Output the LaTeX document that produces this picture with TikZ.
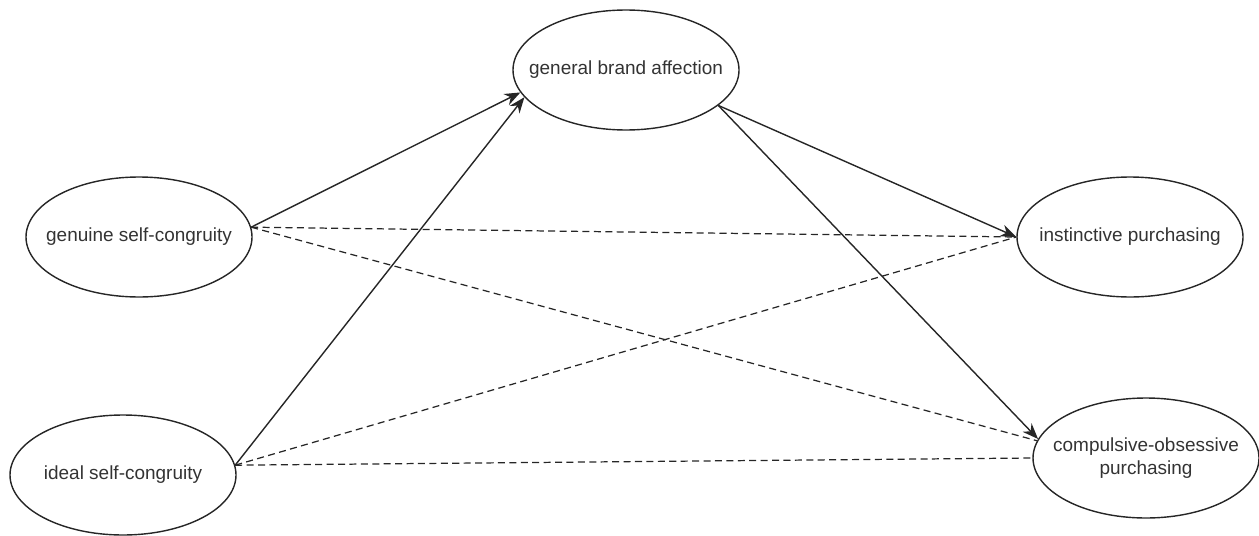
\documentclass[tikz,border=0pt]{standalone}
\usepackage{fontspec}
\setmainfont{Liberation Sans}
\usepackage{tikz}
\usetikzlibrary{arrows.meta, shapes}
\tikzset{
  constnode/.style={ellipse,draw=black!85,line width=0.8pt,minimum width=4.52cm,minimum height=2.4cm,inner xsep=-0.45cm,inner ysep=0pt,font=\fontsize{10.8}{12.8}\selectfont,text=black!80,align=center},
  diredge/.style={-{Stealth[length=9pt,width=7pt]},line width=0.8pt,black!85},
  nulledge/.style={dashed,dash pattern=on 4pt off 2.5pt,line width=0.7pt,black!85},
}
\begin{document}
\begin{tikzpicture}
  \useasboundingbox (0,0) rectangle (25.18,10.70);
  \node[constnode] (nGSC) at (2.78,5.96) {genuine self-congruity};
  \node[constnode] (nISC) at (2.46,1.20) {ideal self-congruity};
  \node[constnode] (nGBA) at (12.52,9.30) {general brand affection};
  \node[constnode] (nINP) at (22.60,5.96) {instinctive purchasing};
  \node[constnode] (nCOP) at (22.92,1.54) {compulsive-obsessive\\purchasing};
  % direct paths
  \draw[diredge] (nGSC.5) -- (nGBA.192);
  \draw[diredge] (nISC.5) -- (nGBA.195);
  \draw[diredge] (nGBA.-21) -- (nINP.west);
  \draw[diredge] (nGBA.-21) -- (nCOP.170);
  % dashed paths
  \draw[nulledge] (nGSC.5) -- (nINP.west);
  \draw[nulledge] (nGSC.5) -- (nCOP.171);
  \draw[nulledge] (nISC.5) -- (nINP.west);
  \draw[nulledge] (nISC.5) -- (nCOP.west);
\end{tikzpicture}
\end{document}
